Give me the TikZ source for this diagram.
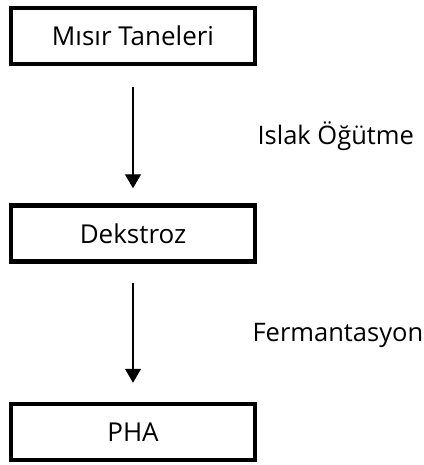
\documentclass[tikz,border=0pt]{standalone}
\usepackage{fontspec}
\setmainfont{Open Sans}
\usetikzlibrary{arrows.meta}

\tikzset{
    stage/.style={draw,line width=4.5pt,minimum width=244pt,minimum height=56pt,inner sep=0pt,font=\fontsize{26}{30}\selectfont},
    flow/.style={-{Triangle[width=16pt,length=14pt]},line width=1.3pt},
    steplabel/.style={anchor=west,font=\fontsize{25.5}{30}\selectfont}
}

\begin{document}
\begin{tikzpicture}[x=1pt,y=-1pt]
        \useasboundingbox (0,0) rectangle (423,465);
        % Stages
        \draw (133,36) node[stage](misir) {Mısır Taneleri};
        \draw (133,233.5) node[stage](dekstroz) {Dekstroz};
        \draw (133,432) node[stage](pha) {PHA};
        % Steps
        \draw[flow,shorten <=21pt,shorten >=15pt] (misir.south) -- (dekstroz.north);
        \draw[flow,shorten <=19pt,shorten >=19pt] (dekstroz.south) -- (pha.north);
        \draw (254,136) node[steplabel] {Islak Öğütme};
        \draw (249,335) node[steplabel] {Fermantasyon};
    \end{tikzpicture}
\end{document}
